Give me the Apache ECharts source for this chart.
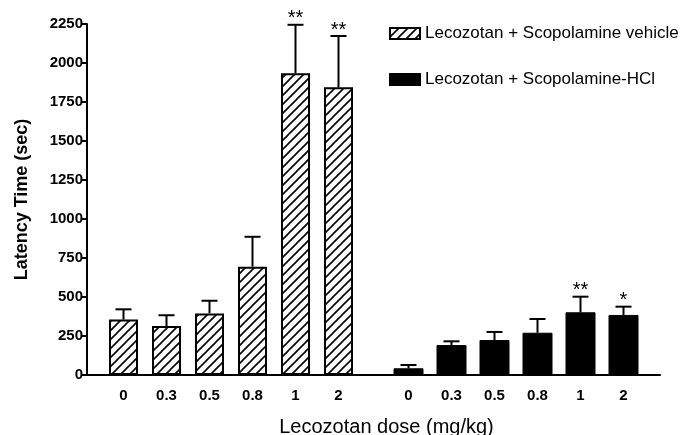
<!DOCTYPE html>
<html><head><meta charset="utf-8">
<script src="https://cdn.jsdelivr.net/npm/echarts@6/dist/echarts.min.js"></script>
<style>html,body{margin:0;padding:0;background:#fff}#c{width:680px;height:435px}</style>
</head><body><div id="c"></div>
<script>
var categories = ['0', '0.3', '0.5', '0.8', '1', '2'];
var vehicleMean = [355, 314, 395, 694, 1935, 1844];
var vehicleErr = [66, 69, 81, 192, 310, 329];
var vehicleStars = ['', '', '', '', '**', '**'];
var hclMean = [43, 192, 224, 271, 402, 385];
var hclErr = [21, 24, 52, 88, 100, 53];
var hclStars = ['', '', '', '', '**', '*'];
var yTicks = [0, 250, 500, 750, 1000, 1250, 1500, 1750, 2000, 2250];

var FONT = "'Liberation Sans', Arial, sans-serif";

// hatch pattern
var pc = document.createElement('canvas');
var P = 9;
pc.width = P; pc.height = P;
var g = pc.getContext('2d');
g.fillStyle = '#fff'; g.fillRect(0, 0, P, P);
g.strokeStyle = '#000'; g.lineWidth = 1.6;
[[-1, 1, 1, -1], [0, P, P, 0], [P - 1, P + 1, P + 1, P - 1]].forEach(function (l) {
  g.beginPath(); g.moveTo(l[0], l[1]); g.lineTo(l[2], l[3]); g.stroke();
});
var hatch = { image: pc, repeat: 'repeat' };

function errData(mean, err) {
  return mean.map(function (m, i) { return [i, m, err[i]]; });
}
function makeErr(stars) {
  return function (params, api) {
    var i = api.value(0), m = api.value(1), e = api.value(2);
    var star = stars[params.dataIndex];
    var base = api.coord([i, m]);
    var top = api.coord([i, m + e]);
    var cap = 8;
    var children = [
      { type: 'line', shape: { x1: base[0], y1: base[1], x2: top[0], y2: top[1] }, style: { stroke: '#000', lineWidth: 2 } },
      { type: 'line', shape: { x1: top[0] - cap, y1: top[1], x2: top[0] + cap, y2: top[1] }, style: { stroke: '#000', lineWidth: 2 } }
    ];
    if (star) {
      children.push({ type: 'text', style: { text: star, x: top[0], y: top[1] + 4, align: 'center', verticalAlign: 'bottom', fill: '#000', font: '20px ' + FONT } });
    }
    return { type: 'group', children: children };
  };
}

var yMin = yTicks[0], yMax = yTicks[yTicks.length - 1], yInt = yTicks[1] - yTicks[0];
var gridTop = 24, gridBottom = 60;

var chart = echarts.init(document.getElementById('c'), null, { renderer: 'canvas' });
chart.setOption({
  animation: false,
  backgroundColor: '#fff',
  grid: [
    { left: 87, right: 20, top: gridTop, bottom: gridBottom, containLabel: false, outerBoundsMode: 'none' },
    { left: 102, width: 258, top: gridTop, bottom: gridBottom, containLabel: false, outerBoundsMode: 'none' },
    { left: 387, width: 258, top: gridTop, bottom: gridBottom, containLabel: false, outerBoundsMode: 'none' }
  ],
  legend: {
    orient: 'vertical', left: 384, top: 20, itemWidth: 30, itemHeight: 11, itemGap: 29, icon: 'rect',
    textStyle: { fontFamily: FONT, fontSize: 17, color: '#000' },
    data: ['Lecozotan + Scopolamine vehicle', 'Lecozotan + Scopolamine-HCl']
  },
  xAxis: [
    { gridIndex: 0, type: 'category', data: [''], axisLine: { lineStyle: { color: '#000', width: 2 } }, axisTick: { show: false }, axisLabel: { show: false },
      name: 'Lecozotan dose (mg/kg)', nameLocation: 'middle', nameGap: 42, nameTextStyle: { fontFamily: FONT, fontSize: 20, color: '#000', padding: [0, 0, 0, 26] } },
    { gridIndex: 1, type: 'category', data: categories, axisLine: { show: false }, axisTick: { show: false },
      axisLabel: { fontFamily: FONT, fontSize: 15, fontWeight: 'bold', color: '#000', margin: 13 } },
    { gridIndex: 2, type: 'category', data: categories, axisLine: { show: false }, axisTick: { show: false },
      axisLabel: { fontFamily: FONT, fontSize: 15, fontWeight: 'bold', color: '#000', margin: 13 } }
  ],
  yAxis: [
    { gridIndex: 0, type: 'value', min: yMin, max: yMax, interval: yInt,
      axisLine: { show: true, lineStyle: { color: '#000', width: 2 } },
      axisTick: { show: true, length: 5, lineStyle: { color: '#000', width: 2 } },
      axisLabel: { fontFamily: FONT, fontSize: 15, fontWeight: 'bold', color: '#000', margin: 4, formatter: function (v) { return String(v); } },
      splitLine: { show: false },
      name: 'Latency Time (sec)', nameLocation: 'middle', nameGap: 56,
      nameTextStyle: { fontFamily: FONT, fontSize: 18, fontWeight: 'bold', color: '#000' } },
    { gridIndex: 1, type: 'value', min: yMin, max: yMax, show: false },
    { gridIndex: 2, type: 'value', min: yMin, max: yMax, show: false }
  ],
  series: [
    { name: 'Lecozotan + Scopolamine vehicle', type: 'bar', xAxisIndex: 1, yAxisIndex: 1, barWidth: 29, data: vehicleMean,
      itemStyle: { color: hatch, borderColor: '#000', borderWidth: 2 } },
    { name: 'Lecozotan + Scopolamine-HCl', type: 'bar', xAxisIndex: 2, yAxisIndex: 2, barWidth: 30, data: hclMean,
      itemStyle: { color: '#000', borderColor: '#000', borderWidth: 1 } },
    { type: 'custom', xAxisIndex: 1, yAxisIndex: 1, renderItem: makeErr(vehicleStars), data: errData(vehicleMean, vehicleErr), z: 1 },
    { type: 'custom', xAxisIndex: 2, yAxisIndex: 2, renderItem: makeErr(hclStars), data: errData(hclMean, hclErr), z: 1 }
  ]
});
</script></body></html>
